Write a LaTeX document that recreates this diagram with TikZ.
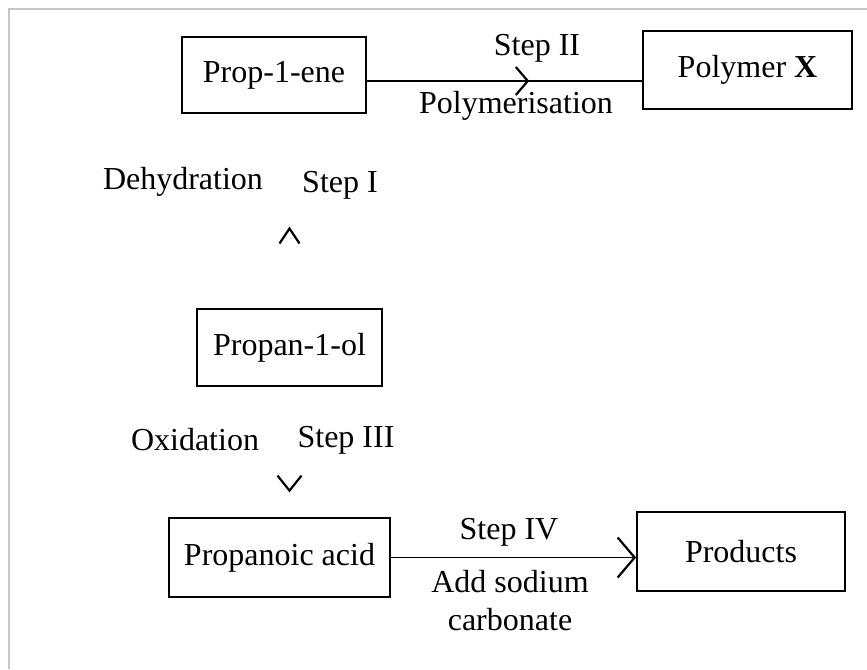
\documentclass[tikz,border=0pt]{standalone}
\usepackage{fontspec}
\setmainfont{Liberation Serif}
\usetikzlibrary{arrows.meta,decorations.markings}
\tikzset{
  box/.style={draw, line width=1.8pt, inner sep=0pt, font=\fontsize{32}{38}\selectfont},
  lbl/.style={inner sep=0pt, font=\fontsize{32}{38}\selectfont},
  conn/.style={line width=1.9pt},
  midtip/.style 2 args={decorate, decoration={markings, mark=at position #1 with {\arrow[line width=2.2pt]{#2}}}}
}
\begin{document}
\begin{tikzpicture}[x=1pt,y=-1pt]
\useasboundingbox (0,0) rectangle (867,669);
% frame
\draw[gray!45, line width=1.5pt] (9,669) -- (9,9) -- (867,9);
% boxes
\node[box, minimum width=184pt, minimum height=76pt] (ene) at (274,75) {Prop-1-ene};
\node[box, minimum width=209pt, minimum height=78pt] (poly) at (747.5,70) {Polymer \textbf{X}};
\node[box, minimum width=185pt, minimum height=77pt] (ol) at (289.5,347.5) {Propan-1-ol};
\node[box, minimum width=221pt, minimum height=79pt] (acid) at (279.5,557.5) {Propanoic acid};
\node[box, minimum width=208pt, minimum height=79pt] (prod) at (741,551.5) {Products};
% step II
\draw[conn, postaction={midtip={0.59}{Straight Barb[length=12pt,width=28pt]}}]
  ([yshift=-6pt]ene.east) -- ([yshift=-6pt]ene.east -| poly.west);
\node[lbl] (s2) at (537,48) {Step II};
\node[lbl] (s2b) at (516,106) {Polymerisation};
% step I (arrowhead only)
\path[midtip={0.42}{Straight Barb[length=15pt,width=20pt]}] (ol.north) -- (ol.north |- ene.south);
\node[lbl] (dehyd) at (183,182) {Dehydration};
\node[lbl] (s1) at (340,185) {Step I};
% step III (arrowhead only)
\path[midtip={0.81}{Straight Barb[length=15pt,width=24pt]}] (ol.south) -- (ol.south |- acid.north);
\node[lbl] (oxid) at (195,440) {Oxidation};
\node[lbl] (s3) at (346,440) {Step III};
% step IV
\draw[conn, -{Straight Barb[length=17pt,width=40pt,line width=2.2pt]}] (acid.east) -- (acid.east -| prod.west);
\node[lbl] (s4) at (509,532) {Step IV};
\node[lbl] (s4b) at (510,582) {Add sodium};
\node[lbl] (s4c) at (510,620) {carbonate};
\end{tikzpicture}
\end{document}
